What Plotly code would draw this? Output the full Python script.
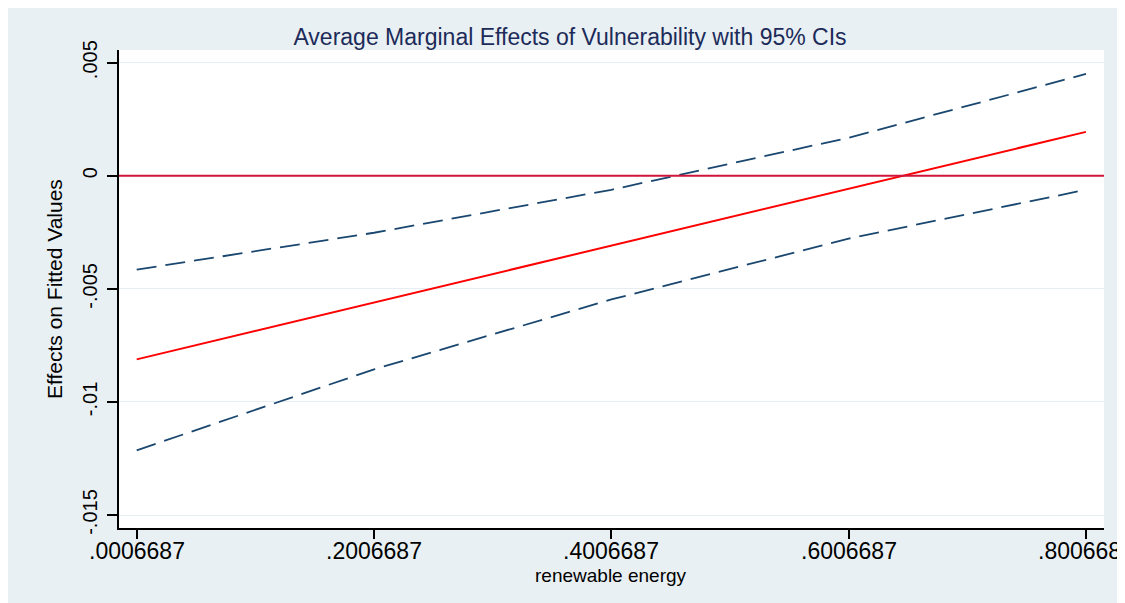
import plotly.graph_objects as go

# Data
x_vals = [0.0006687, 0.2006687, 0.4006687, 0.6006687, 0.8006687]
x_tick_labels = [".0006687", ".2006687", ".4006687", ".6006687", ".8006687"]
effect = [-0.00812, -0.00561, -0.00309, -0.00058, 0.00194]
upper_ci = [-0.00415, -0.00252, -0.00062, 0.00168, 0.00450]
lower_ci = [-0.01214, -0.00856, -0.00547, -0.00278, -0.00062]
y_ticks = [0.005, 0, -0.005, -0.01, -0.015]
y_tick_labels = [".005", "0", "-.005", "-.01", "-.015"]

# page has an 8px body margin, so figure occupies (8,8)-(1125,603)
W, H = 1117, 595
L, R, T, B = 111, 21, 42, 75
pw, ph = W - L - R, H - T - B

BG = "#e9f0f3"
NAVY = "#1a476f"
FONT = "Liberation Sans, Arial, sans-serif"

fig = go.Figure()
fig.add_trace(go.Scatter(x=x_vals, y=upper_ci, mode="lines",
                         line=dict(color=NAVY, width=1.8, dash="20px,9px"), showlegend=False))
fig.add_trace(go.Scatter(x=x_vals, y=lower_ci, mode="lines",
                         line=dict(color=NAVY, width=1.8, dash="20px,9px"), showlegend=False))
fig.add_trace(go.Scatter(x=x_vals, y=effect, mode="lines",
                         line=dict(color="#ff0000", width=2), showlegend=False))

fig.add_hline(y=0, line=dict(color="#d0143a", width=1.8))

annotations = [
    dict(text="Effects on Fitted Values", xref="paper", yref="paper",
         x=(46 - L) / pw, y=(H - B - 281) / ph, textangle=-90,
         showarrow=False, font=dict(size=21, color="black", family=FONT),
         xanchor="center", yanchor="middle"),
    dict(text="renewable energy", xref="paper", yref="paper",
         x=(603 - L) / pw, y=(H - B - 567) / ph,
         showarrow=False, font=dict(size=19, color="black", family=FONT),
         xanchor="center", yanchor="middle"),
]
for xv, lab in zip(x_vals, x_tick_labels):
    annotations.append(dict(text=lab, xref="x", yref="paper", x=xv,
                            y=(H - B - 543) / ph, showarrow=False,
                            font=dict(size=23, color="black", family=FONT),
                            xanchor="center", yanchor="middle"))

fig.update_layout(
    width=W, height=H,
    margin=dict(l=L, r=R, t=T, b=B, autoexpand=False),
    paper_bgcolor=BG, plot_bgcolor="white",
    font=dict(family=FONT, color="black"),
    title=dict(text="Average Marginal Effects of Vulnerability with 95% CIs",
               x=(562 - L) / pw, xref="paper", xanchor="center",
               y=1 - 29 / H, yref="container", yanchor="middle",
               font=dict(size=23, color="#1c2b59", family=FONT)),
    xaxis=dict(range=[-0.01425, 0.81584], tickmode="array", tickvals=x_vals,
               showticklabels=False, showgrid=False, zeroline=False,
               showline=True, linecolor="black", linewidth=1.5,
               ticks="outside", ticklen=9, tickwidth=1.5, tickcolor="black",
               automargin=False),
    yaxis=dict(range=[-0.015575, 0.00556], tickmode="array", tickvals=y_ticks,
               ticktext=y_tick_labels, showgrid=True, gridcolor="#e6eef2", gridwidth=1.2,
               zeroline=False, showline=True, linecolor="black", linewidth=1.5,
               ticks="outside", ticklen=10, tickwidth=1.5, tickcolor="black",
               tickangle=-90, tickfont=dict(size=20, color="black"), automargin=False,
               ticklabelstandoff=2),
    annotations=annotations,
)

fig.write_html("out.html")
